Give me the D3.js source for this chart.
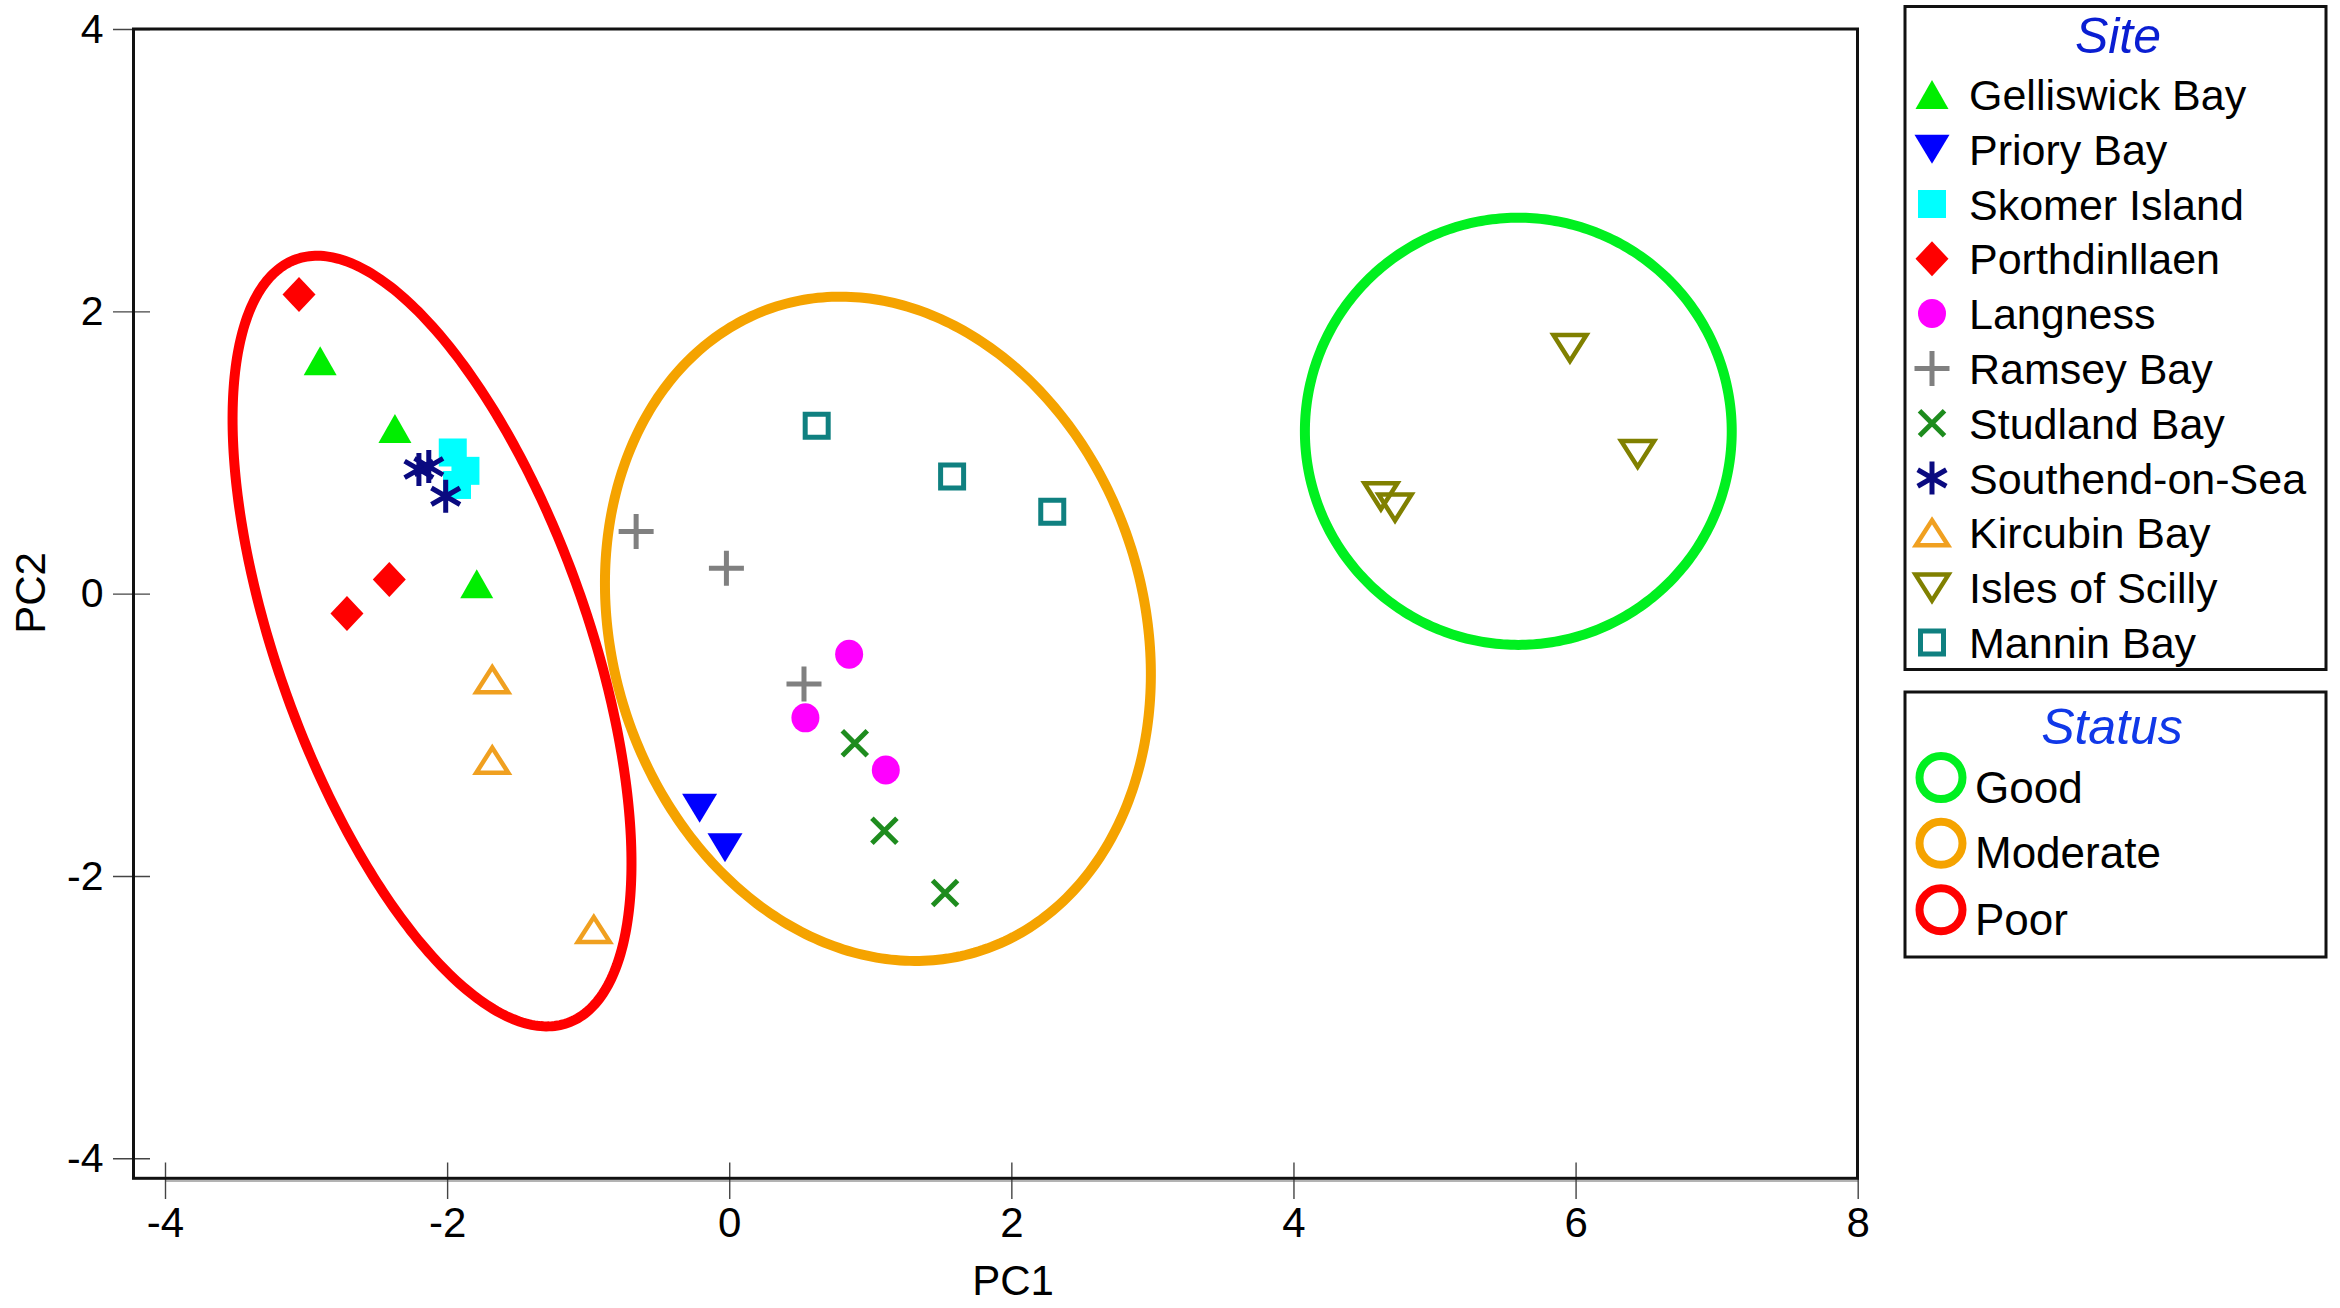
<!DOCTYPE html>
<html>
<head>
<meta charset="utf-8">
<script src="https://cdn.jsdelivr.net/npm/d3@7"></script>
<style>
  html, body { margin: 0; padding: 0; background: #ffffff; }
  svg { display: block; }
  text { font-family: "Liberation Sans", Arial, sans-serif; }
</style>
</head>
<body>
<svg id="chart" width="2340" height="1308"></svg>
<script>
// ---------------- DATA ----------------
const xTicks = [-4, -2, 0, 2, 4, 6, 8];
const yTicks = [-4, -2, 0, 2, 4];

const siteNames = ["Gelliswick Bay", "Priory Bay", "Skomer Island", "Porthdinllaen", "Langness",
  "Ramsey Bay", "Studland Bay", "Southend-on-Sea", "Kircubin Bay", "Isles of Scilly", "Mannin Bay"];
const siteColors = ["#00ee00", "#0000ff", "#00ffff", "#ff0000", "#ff00ff",
  "#808080", "#1e8c1e", "#0a0a80", "#f0a020", "#808000", "#0f8080"];
const siteShapes = ["triUp", "triDown", "square", "diamond", "circle",
  "plus", "cross", "asterisk", "triUpOpen", "triDownOpen", "squareOpen"];

// [PC1, PC2] per sample
const gelliswickBay = [[-2.90, 1.65], [-2.37, 1.17], [-1.79, 0.07]];
const prioryBay = [[-0.21, -1.52], [-0.03, -1.80]];
const skomerIsland = [[-1.96, 1.00], [-1.87, 0.87], [-1.93, 0.77]];
const porthdinllaen = [[-3.05, 2.12], [-2.41, 0.10], [-2.71, -0.14]];
const langness = [[0.85, -0.43], [0.54, -0.88], [1.11, -1.25]];
const ramseyBay = [[-0.66, 0.44], [-0.02, 0.18], [0.53, -0.64]];
const studlandBay = [[0.89, -1.06], [1.10, -1.68], [1.53, -2.12]];
const southendOnSea = [[-2.20, 0.88], [-2.13, 0.90], [-2.01, 0.69]];
const kircubinBay = [[-1.68, -0.61], [-1.68, -1.18], [-0.96, -2.38]];
const islesOfScilly = [[5.96, 1.74], [6.44, 0.99], [4.62, 0.69], [4.72, 0.61]];
const manninBay = [[0.62, 1.19], [1.58, 0.83], [2.29, 0.58]];

const statusNames = ["Good", "Moderate", "Poor"];
const statusColors = ["#00f020", "#f5a300", "#ff0000"];
const ellipseCenterPC1 = [5.594, 1.054, -2.107];
const ellipseCenterPC2 = [1.150, -0.249, -0.336];
const ellipseSemiMajor = [1.513, 2.394, 2.871];
const ellipseSemiMinor = [1.513, 1.884, 1.099];
const ellipseAngleDeg = [0, -72.6, -70.4];

const siteData = [gelliswickBay, prioryBay, skomerIsland, porthdinllaen, langness,
  ramseyBay, studlandBay, southendOnSea, kircubinBay, islesOfScilly, manninBay];

// ---------------- LAYOUT ----------------
const svg = d3.select("#chart");
const x = d3.scaleLinear().domain([-4, 8]).range([165, 1857.7]);
const y = d3.scaleLinear().domain([-4, 4]).range([1158.3, 29]);
const frame = { left: 133.5, top: 29, right: 1857.5, bottom: 1178.3 };

// symbol paths, centred on bounding box
function symbolPath(shape) {
  switch (shape) {
    case "triUp": { const w = 33, h = 29; return `M0,${-h/2}L${w/2},${h/2}L${-w/2},${h/2}Z`; }
    case "triDown": { const w = 35, h = 29; return `M${-w/2},${-h/2}L${w/2},${-h/2}L0,${h/2}Z`; }
    case "triUpOpen": { const w = 32, h = 25; return `M0,${-h/2}L${w/2},${h/2}L${-w/2},${h/2}Z`; }
    case "triDownOpen": { const w = 33, h = 26; return `M${-w/2},${-h/2}L${w/2},${-h/2}L0,${h/2}Z`; }
    case "square": { const s = 28; return `M${-s/2},${-s/2}H${s/2}V${s/2}H${-s/2}Z`; }
    case "squareOpen": { const s = 23; return `M${-s/2},${-s/2}H${s/2}V${s/2}H${-s/2}Z`; }
    case "diamond": { const w = 33, h = 35; return `M0,${-h/2}L${w/2},0L0,${h/2}L${-w/2},0Z`; }
    case "circle": { const rx = 14, ry = 14.5; return `M${-rx},0A${rx},${ry} 0 1,0 ${rx},0A${rx},${ry} 0 1,0 ${-rx},0Z`; }
    case "plus": { const s = 35; return `M${-s/2},0H${s/2}M0,${-s/2}V${s/2}`; }
    case "cross": { const s = 25; return `M${-s/2},${-s/2}L${s/2},${s/2}M${-s/2},${s/2}L${s/2},${-s/2}`; }
    case "asterisk": {
      const r = 16.5; const c = Math.cos(Math.PI / 6) * r, sn = Math.sin(Math.PI / 6) * r;
      return `M0,${-r}V${r}M${-c},${-sn}L${c},${sn}M${-c},${sn}L${c},${-sn}`;
    }
  }
}
function symbolStyle(sel, i) {
  const shape = siteShapes[i], col = siteColors[i];
  const filled = ["triUp", "triDown", "square", "diamond", "circle"].includes(shape);
  if (filled) {
    sel.attr("fill", col).attr("stroke", "none");
  } else {
    let sw = 5;
    if (shape === "triUpOpen" || shape === "triDownOpen") sw = 4.5;
    sel.attr("fill", "none").attr("stroke", col).attr("stroke-width", sw)
       .attr("stroke-linejoin", "miter");
  }
}

const fmt = d => String(d);

// ---------------- AXES ----------------
const xAxis = d3.axisBottom(x).tickValues(xTicks).tickFormat(fmt)
  .tickSizeInner(18).tickSizeOuter(0).tickPadding(9);
const gx = svg.append("g").attr("transform", `translate(0,${1180.5})`).call(xAxis);
gx.select(".domain").attr("stroke", "#9a9a9a").attr("stroke-width", 1.6);
gx.selectAll(".tick line").attr("y1", -18).attr("y2", 18.5).attr("stroke", "#444").attr("stroke-width", 1.4);
gx.selectAll(".tick text").attr("fill", "#000").attr("font-size", 42)
  .attr("font-family", "'Liberation Sans', Arial, sans-serif");

const yAxis = d3.axisLeft(y).tickValues(yTicks).tickFormat(fmt)
  .tickSizeInner(20.5).tickSizeOuter(0).tickPadding(9.5);
const gy = svg.append("g").attr("transform", `translate(${frame.left},0)`).call(yAxis);
gy.select(".domain").attr("stroke", "none");
gy.selectAll(".tick line").attr("x1", 16.5).attr("stroke", "#444").attr("stroke-width", 1.4);
gy.selectAll(".tick text").attr("fill", "#000").attr("font-size", 41)
  .attr("font-family", "'Liberation Sans', Arial, sans-serif");

// frame
svg.append("rect")
  .attr("x", frame.left).attr("y", frame.top)
  .attr("width", frame.right - frame.left).attr("height", frame.bottom - frame.top)
  .attr("fill", "none").attr("stroke", "#111").attr("stroke-width", 3);

// axis titles
svg.append("text").attr("x", 1013).attr("y", 1295).attr("text-anchor", "middle")
  .attr("font-size", 42).attr("fill", "#000").text("PC1");
svg.append("text").attr("transform", "translate(45,593) rotate(-90)").attr("text-anchor", "middle")
  .attr("font-size", 42).attr("fill", "#000").text("PC2");

// ---------------- MARKERS ----------------
const gMarks = svg.append("g");
siteData.forEach((pts, i) => {
  gMarks.append("g").selectAll("path").data(pts).join("path")
    .attr("d", symbolPath(siteShapes[i]))
    .attr("transform", d => `translate(${x(d[0])},${y(d[1])})`)
    .call(sel => symbolStyle(sel, i));
});

// ---------------- ELLIPSES ----------------
const line = d3.line().x(d => x(d[0])).y(d => y(d[1])).curve(d3.curveLinearClosed);
statusNames.forEach((name, i) => {
  const cx = ellipseCenterPC1[i], cy = ellipseCenterPC2[i];
  const a = ellipseSemiMajor[i], b = ellipseSemiMinor[i];
  const phi = ellipseAngleDeg[i] * Math.PI / 180;
  const pts = d3.range(0, 360, 1).map(t => {
    const tr = t * Math.PI / 180;
    const dx = a * Math.cos(tr), dy = b * Math.sin(tr);
    return [cx + dx * Math.cos(phi) - dy * Math.sin(phi), cy + dx * Math.sin(phi) + dy * Math.cos(phi)];
  });
  svg.append("path").attr("d", line(pts)).attr("fill", "none")
    .attr("stroke", statusColors[i]).attr("stroke-width", 10);
});

// ---------------- LEGENDS ----------------
const siteBox = { x: 1905, y: 6.5, w: 421, h: 663 };
svg.append("rect").attr("x", siteBox.x).attr("y", siteBox.y).attr("width", siteBox.w).attr("height", siteBox.h)
  .attr("fill", "#fff").attr("stroke", "#111").attr("stroke-width", 3);
svg.append("text").attr("x", 2118).attr("y", 53).attr("text-anchor", "middle")
  .attr("font-size", 50).attr("font-style", "italic").attr("fill", "#0a1ed2").text("Site");
const rowY = i => 94.4 + 54.8 * i;
siteNames.forEach((name, i) => {
  svg.append("path").attr("d", symbolPath(siteShapes[i]))
    .attr("transform", `translate(1932,${rowY(i)})`).call(sel => symbolStyle(sel, i));
  svg.append("text").attr("x", 1969).attr("y", rowY(i) + 15.5)
    .attr("font-size", 43).attr("fill", "#000").text(name);
});

const statusBox = { x: 1905, y: 692, w: 421, h: 265 };
svg.append("rect").attr("x", statusBox.x).attr("y", statusBox.y).attr("width", statusBox.w).attr("height", statusBox.h)
  .attr("fill", "#fff").attr("stroke", "#111").attr("stroke-width", 3);
svg.append("text").attr("x", 2112).attr("y", 743.5).attr("text-anchor", "middle")
  .attr("font-size", 50).attr("font-style", "italic").attr("fill", "#1038e8").text("Status");
const statusY = [777.6, 843.3, 909.8];
statusNames.forEach((name, i) => {
  svg.append("circle").attr("cx", 1941).attr("cy", statusY[i]).attr("r", 21.5)
    .attr("fill", "none").attr("stroke", statusColors[i]).attr("stroke-width", 8);
  svg.append("text").attr("x", 1975).attr("y", statusY[i] + 25)
    .attr("font-size", 44).attr("fill", "#000").text(name);
});
</script>
</body>
</html>
